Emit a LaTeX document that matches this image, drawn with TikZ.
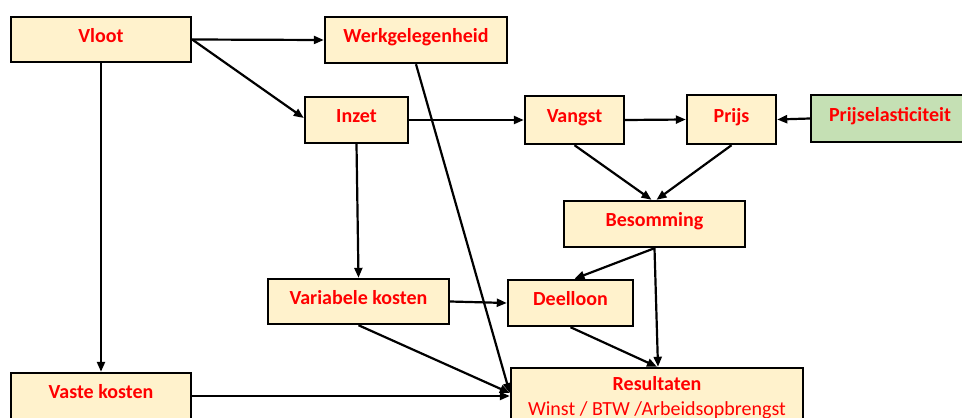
\documentclass[tikz,border=0pt]{standalone}
\usepackage{fontspec}
\setmainfont{Carlito}
\usetikzlibrary{arrows.meta,calc}
\definecolor{boxfill}{HTML}{FFF2CC}
\definecolor{greenfill}{HTML}{C5E0B4}
\definecolor{txtred}{HTML}{FF0000}
\tikzset{
  stepbox/.style={draw=black, line width=2.4pt, fill=boxfill, inner sep=0pt,
    font=\fontsize{20}{24}\selectfont\bfseries, text=txtred,
    text height=13pt, text depth=8pt},
  greenbox/.style={stepbox, fill=greenfill},
  conn/.style={line width=2.2pt, -{Triangle[length=10pt,width=8pt]}},
}
\begin{document}
\begin{tikzpicture}[x=1pt,y=-1pt]
\useasboundingbox (0,0) rectangle (962,418);
\clip (0,0) rectangle (962,418);
\fill[white] (0,0) rectangle (962,418);
% nodes
\node[stepbox, minimum width=180pt, minimum height=45pt] (vloot) at (101,39.5) {Vloot};
\node[stepbox, minimum width=182pt, minimum height=46pt] (werk) at (416,40) {Werkgelegenheid};
\node[stepbox, minimum width=103pt, minimum height=46pt] (inzet) at (356.5,120) {Inzet};
\node[stepbox, minimum width=99pt, minimum height=48pt] (vangst) at (574.5,120) {Vangst};
\node[stepbox, minimum width=89pt, minimum height=49pt] (prijs) at (731.5,119.5) {Prijs};
\node[greenbox, minimum width=158pt, minimum height=47pt] (elast) at (890,118.5) {Prijselasticiteit};
\node[stepbox, minimum width=181pt, minimum height=46pt] (besom) at (654.5,224) {Besomming};
\node[stepbox, minimum width=181pt, minimum height=45pt] (varkost) at (358.5,301.5) {Variabele kosten};
\node[stepbox, minimum width=125pt, minimum height=46pt] (deel) at (570.5,303) {Deelloon};
\node[stepbox, minimum width=180pt, minimum height=46pt] (vaste) at (101,396) {Vaste kosten};
\node[stepbox, minimum width=292pt, minimum height=60pt, text height=, text depth=, align=center] (result) at (657,398)
  {Resultaten\\[1pt]{\mdseries Winst / BTW /Arbeidsopbrengst}};
% connectors
\draw[conn] (vloot.east) -- (werk.west);
\draw[conn] (vloot.east) -- ([yshift=2pt]inzet.west);
\draw[conn] (vloot.south) -- (vaste.north);
\draw[conn] (inzet.east) -- (vangst.west);
\draw[conn] (vangst.east) -- (prijs.west);
\draw[conn] (elast.west) -- (prijs.east);
\draw[conn] (vangst.south) -- ([xshift=-3pt]besom.north);
\draw[conn] (prijs.south) -- ([xshift=2pt]besom.north);
\draw[conn] (inzet.south) -- (varkost.north);
\draw[conn] (werk.south) -- ([yshift=5pt]result.west);
\draw[conn] (besom.south) -- ([xshift=4pt]deel.north);
\draw[conn] (besom.south) -- ([xshift=1pt]result.north);
\draw[conn] (varkost.east) -- (deel.west);
\draw[conn] (varkost.south) -- ([yshift=5pt]result.west);
\draw[conn] (vaste.east) -- ([yshift=2pt]result.west);
\draw[conn] (deel.south) -- (result.north);
\end{tikzpicture}
\end{document}
